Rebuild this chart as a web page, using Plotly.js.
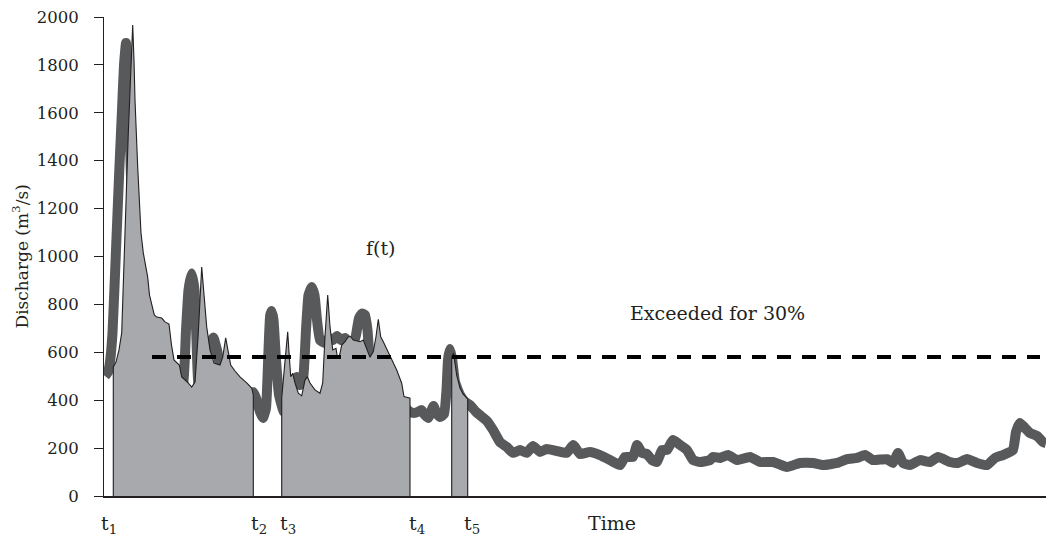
<!DOCTYPE html>
<html>
<head>
<meta charset="utf-8">
<script src="https://cdn.plot.ly/plotly-3.0.1.min.js"></script>
<style>
  html, body { margin: 0; padding: 0; background: #ffffff; }
  #chart { width: 1046px; height: 540px; }
</style>
</head>
<body>
<div id="chart"></div>
<script>
// Observed discharge (m3/s) by time step
const timeSteps = [0.5,2,3,4.25,6,7.5,9,10,11,11.75,
  12.5,13.5,15,17,20.5,25.5,30.5,34,37,39.5,
  41,42.25,43.85,45.25,46.25,47.25,49,51,53,54.65,
  56.5,58.5,62,67,71.5,74.5,76,78,79.5,81,
  82.25,83.1,83.85,84.75,86,87.5,90,92.5,94.5,96.25,
  98,99.5,101,102.25,103.85,105.25,106.5,108,110.5,112.5,
  114.5,116.5,118.5,120.5,122.5,124.5,126,127.5,129,130.5,
  131.75,133,136,140,144,148,151,153,155,157,
  158.75,160.5,162.25,163.5,164.75,166,168,170,171.25,172,
  173,174,175.5,178,180.5,183,186,188.5,191.5,194.5,
  198,201.35,204.5,208,211.35,214.5,218,221.35,226.35,231.35,
  234.65,238,243,248,253,258,260.5,264.5,266.5,269,
  271.5,274,276.5,279,281.5,284.5,288,291.5,294.5,298,
  303,304.5,308,312,316.5,323,328,334.5,341.5,348,
  354.5,359.5,366.5,371.5,376.5,380.5,384.5,391.5,394.5,397,
  399.5,403,408,413,417,423,427,431.5,436.5,441.5,
  445.5,449.5,454.5,456,458,460.5,463,466.5,469.5,471];
const discharge = [501,518,560,681,1027,1332,1612,1800,1891,1820,
  1612,1332,1027,860,735,672,630,505,434,463,
  693,860,929,860,651,463,434,526,630,662,
  610,526,463,434,422,434,409,351,326,367,
  610,756,772,735,568,422,351,380,463,497,
  463,484,693,839,873,839,735,651,639,660,
  651,668,651,660,643,630,672,743,762,756,
  693,568,518,484,443,401,367,351,347,351,
  359,338,326,351,376,351,330,342,443,568,
  614,576,476,422,393,380,351,334,313,276,
  225,205,180,192,180,209,184,196,188,180,
  213,175,184,171,150,129,163,163,213,180,
  175,150,142,192,192,234,213,192,150,142,
  150,163,159,171,150,163,142,142,121,138,
  138,129,138,154,159,171,150,154,138,180,
  138,129,150,142,163,142,138,154,138,129,
  159,171,192,267,305,284,263,251,225,221];

// f(t) inside the three windows t1-t2, t3-t4 and from t5
const window1Time = [4.65,6,7.5,8.85,9.75,10.5,12.15,13.5,14.35,15,
  15.5,16.85,18.5,19.65,20.5,21.85,22.75,24,25.15,26.35,
  28.85,30.5,32.5,33.75,35,37.65,38.85,41.65,43.85,45.5,
  47.15,48.85,50,51.35,53,55,58,59.35,60.85,62.15,
  63.35,65.5,68,71.35,73.85,74.65];
const window1Flow = [539,559,610,681,881,1098,1516,1791,1967,1820,
  1653,1374,1098,1015,973,914,839,797,756,747,
  743,727,718,630,568,547,497,476,455,476,
  681,956,848,706,610,555,547,580,660,597,
  547,522,497,472,451,422];
const window2Time = [88.85,89.65,90.85,91.85,92.65,93.35,94.35,95.5,97.15,98.85,
  100.5,101.65,103,105.5,108,109.35,110.5,111.85,113,114.35,
  116,116.75,117.65,118.85,120.5,122.15,123.35,124.65,126.65,128,
  129.65,131.35,133,134.65,136,137.15,138.35,139.65,143,146.35,
  148.85,150,151.35,153];
const window2Flow = [408,484,597,686,582,498,512,472,429,418,
  484,498,472,443,429,472,665,839,707,610,
  617,576,582,630,644,665,665,651,647,644,
  651,617,579,603,665,738,665,644,582,526,
  471,415,412,408];
const window3Time = [173.85,174.75,176.35,178,179.5,181.85];
const window3Flow = [580,597,505,451,426,405];

// Flow exceeded 30% of the time
const threshold = 580;
const thresholdSpan = [24, 468];

// Labels along the time axis
const eventLabels = ['t<sub>1</sub>', 't<sub>2</sub>', 't<sub>3</sub>', 't<sub>4</sub>', 't<sub>5</sub>', 'Time'];
const eventLabelTimes = [2.5, 77.5, 92, 156.5, 184, 254];

const yTicks = [0, 200, 400, 600, 800, 1000, 1200, 1400, 1600, 1800, 2000];

const FONT = '"DejaVu Serif", "Liberation Serif", serif';
const INK = '#231f20';

// closed polygon from zero, along f(t), back to zero
function windowTrace(times, flows) {
  const x = [times[0]].concat(times, [times[times.length - 1]]);
  const y = [0].concat(flows, [0]);
  return {
    x: x, y: y, type: 'scatter', mode: 'lines',
    fill: 'toself', fillcolor: '#a7a9ac',
    line: { color: INK, width: 1.1 },
    hoverinfo: 'skip', showlegend: false
  };
}

const traces = [
  {
    x: timeSteps, y: discharge, type: 'scatter', mode: 'lines',
    line: { color: '#58595b', width: 10, shape: 'spline', smoothing: 0.4 },
    hoverinfo: 'skip', showlegend: false
  },
  windowTrace(window1Time, window1Flow),
  windowTrace(window2Time, window2Flow),
  windowTrace(window3Time, window3Flow),
  {
    x: thresholdSpan, y: [threshold, threshold], type: 'scatter', mode: 'lines',
    line: { color: '#000000', width: 4, dash: '14px,11px' },
    hoverinfo: 'skip', showlegend: false
  }
];

const annotations = eventLabels.map((txt, i) => ({
  text: txt, x: eventLabelTimes[i], xref: 'x', y: 0, yref: 'paper',
  xanchor: 'center', yanchor: 'top', yshift: -14, showarrow: false,
  font: { family: FONT, size: 19, color: INK }
}));
annotations.push(
  { text: 'f(t)', x: 138.5, y: 1035, xref: 'x', yref: 'y', showarrow: false,
    xanchor: 'center', yanchor: 'middle', font: { family: FONT, size: 19, color: INK } },
  { text: 'Exceeded for 30%', x: 306.5, y: 764, xref: 'x', yref: 'y', showarrow: false,
    xanchor: 'center', yanchor: 'middle', font: { family: FONT, size: 19, color: INK } },
  { text: 'Discharge (m<sup>3</sup>/s)', x: 0, xref: 'paper', y: 0.5, yref: 'paper',
    xshift: -84, textangle: -90, showarrow: false, xanchor: 'center', yanchor: 'middle',
    font: { family: FONT, size: 17, color: INK } }
);

const layout = {
  width: 1046, height: 540,
  margin: { l: 104, r: 0, t: 17, b: 44, pad: 0 },
  paper_bgcolor: '#ffffff', plot_bgcolor: '#ffffff',
  showlegend: false, hovermode: false,
  xaxis: {
    range: [0, 471], showgrid: false, zeroline: false,
    showline: true, linecolor: INK, linewidth: 1.5,
    ticks: '', showticklabels: false, fixedrange: true
  },
  yaxis: {
    range: [0, 2000], tickvals: yTicks, showgrid: false, zeroline: false,
    showline: true, linecolor: INK, linewidth: 1,
    ticks: 'outside', ticklen: 9, tickwidth: 1, tickcolor: INK,
    ticklabelstandoff: 12,
    tickfont: { family: FONT, size: 16.5, color: INK }, fixedrange: true
  },
  annotations: annotations
};

Plotly.newPlot('chart', traces, layout, { staticPlot: true, displayModeBar: false });
</script>
</body>
</html>
